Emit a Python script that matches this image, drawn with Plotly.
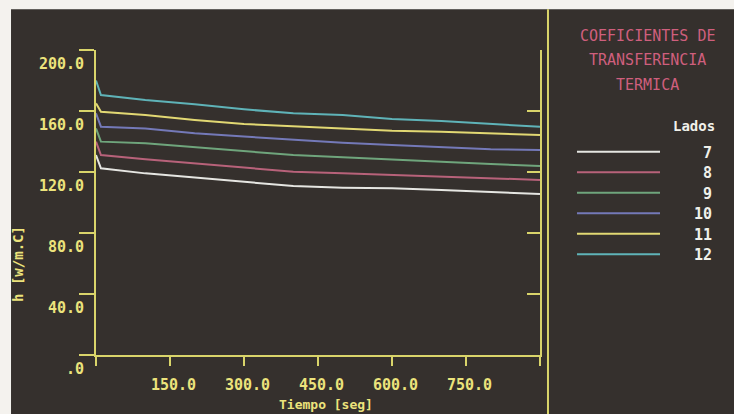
import plotly.graph_objects as go

# ---- data ----
tiempo = [0, 10, 100, 200, 300, 400, 500, 600, 700, 800, 900]
lados = ["7", "8", "9", "10", "11", "12"]
h_7 = [131.1, 122.4, 119.1, 116.5, 113.6, 110.8, 109.7, 109.3, 108.2, 106.9, 105.6]
h_8 = [139.9, 131.1, 128.3, 125.7, 123.1, 120.2, 119.1, 118.0, 116.9, 115.9, 114.8]
h_9 = [148.6, 139.9, 138.8, 136.2, 133.3, 131.1, 129.6, 128.3, 126.8, 125.2, 123.9]
h_10 = [158.5, 149.7, 148.6, 145.4, 143.2, 141.0, 139.2, 137.7, 136.2, 134.9, 134.4]
h_11 = [165.0, 159.5, 157.4, 154.1, 151.5, 150.2, 148.7, 147.1, 146.4, 145.4, 144.3]
h_12 = [180.0, 170.5, 167.2, 164.4, 161.1, 158.5, 157.4, 154.8, 153.4, 151.5, 149.7]
series = [h_7, h_8, h_9, h_10, h_11, h_12]
colors = ["#e6e6e2", "#b8627a", "#6fa57c", "#7479b8", "#e2d873", "#5fb3b8"]

ytick_vals = [0, 40, 80, 120, 160, 200]
ytick_text = [".0", "40.0", "80.0", "120.0", "160.0", "200.0"]
xtick_vals = [0, 150, 300, 450, 600, 750, 900]
xlabel_vals = [150, 300, 450, 600, 750]
xlabel_text = ["150.0", "300.0", "450.0", "600.0", "750.0"]
title_lines = ["COEFICIENTES DE", "TRANSFERENCIA", "TERMICA"]

BG = "#35302d"
AX = "#d9d46a"
TXT = "#ece37c"
PINK = "#cf5f7d"
MONO = "DejaVu Sans Mono"

fig = go.Figure()
for name, vals, col in zip(lados, series, colors):
    fig.add_trace(go.Scatter(x=tiempo, y=vals, mode="lines", name=name,
                             line=dict(color=col, width=2), showlegend=False))

ann = []
for v, t in zip(ytick_vals, ytick_text):
    ann.append(dict(x=0, xref="paper", y=v, yref="y", text=t, showarrow=False,
                    xanchor="right", yanchor="middle", xshift=-10, yshift=-14,
                    font=dict(family=MONO, size=15, color=TXT, weight="bold")))
for v, t in zip(xlabel_vals, xlabel_text):
    ann.append(dict(x=v, xref="x", y=0, yref="paper", text=t, showarrow=False,
                    xanchor="center", yanchor="middle", xshift=3, yshift=-30,
                    font=dict(family=MONO, size=15, color=TXT, weight="bold")))
ann.append(dict(x=0.518, xref="paper", y=-0.163, yref="paper", text="Tiempo [seg]",
                showarrow=False, xanchor="center", yanchor="middle",
                font=dict(family=MONO, size=13, color=TXT, weight="bold")))
ann.append(dict(x=-0.177, xref="paper", y=0.30, yref="paper", text="h [w/m.C]",
                showarrow=False, textangle=-90, xanchor="center", yanchor="middle",
                font=dict(family=MONO, size=14, color=TXT, weight="bold")))
for i, t in enumerate(title_lines):
    ann.append(dict(x=1.2432, xref="paper", y=1.0459 - i * 0.0803, yref="paper", text=t,
                    showarrow=False, xanchor="center", yanchor="middle",
                    font=dict(family=MONO, size=15, color=PINK)))
ann.append(dict(x=1.3986, xref="paper", y=0.7508, yref="paper", text="Lados",
                showarrow=False, xanchor="right", yanchor="middle",
                font=dict(family=MONO, size=14, color="#f0f0ea", weight="bold")))

shapes = []
for i, (name, col) in enumerate(zip(lados, colors)):
    yy = (355 - (151.7 + i * 20.5)) / 305
    shapes.append(dict(type="line", xref="paper", yref="paper", x0=1.0833, x1=1.2703,
                       y0=yy, y1=yy, line=dict(color=col, width=2)))
    ann.append(dict(x=1.3929, xref="paper", y=yy, yref="paper", text=name,
                    showarrow=False, xanchor="right", yanchor="middle", yshift=-1,
                    font=dict(family=MONO, size=15, color="#f0f0ea", weight="bold")))

# scan margins and panel separator
shapes.append(dict(type="rect", xref="paper", yref="paper", x0=-0.25, x1=-0.1914,
                   y0=-0.3, y1=1.3, fillcolor="#f4f2ee", line=dict(width=0), layer="above"))
shapes.append(dict(type="rect", xref="paper", yref="paper", x0=-0.25, x1=1.5,
                   y0=1.134, y1=1.3, fillcolor="#f4f2ee", line=dict(width=0), layer="above"))
shapes.append(dict(type="line", xref="paper", yref="paper", x0=1.018, x1=1.018,
                   y0=-0.2, y1=1.134, line=dict(color=AX, width=2)))

fig.update_layout(
    width=734, height=414,
    margin=dict(l=96, r=194, t=50, b=59),
    paper_bgcolor=BG, plot_bgcolor=BG,
    annotations=ann, shapes=shapes,
    xaxis=dict(range=[0, 900], showgrid=False, zeroline=False, showline=True,
               linecolor=AX, linewidth=2, ticks="outside", ticklen=9, tickwidth=2,
               tickcolor=AX, tickvals=xtick_vals, showticklabels=False),
    yaxis=dict(range=[0, 200], showgrid=False, zeroline=False, showline=True,
               linecolor=AX, linewidth=2, ticks="outside", ticklen=15, tickwidth=2,
               tickcolor=AX, tickvals=ytick_vals, showticklabels=False),
    yaxis2=dict(range=[0, 200], overlaying="y", side="right", anchor="x",
                showgrid=False, zeroline=False, showline=True, linecolor=AX,
                linewidth=2, ticks="inside", ticklen=13, tickwidth=2, tickcolor=AX,
                tickvals=ytick_vals, showticklabels=False),
)
fig.add_trace(go.Scatter(x=[], y=[], yaxis="y2", showlegend=False))
fig.write_html("out.html")
